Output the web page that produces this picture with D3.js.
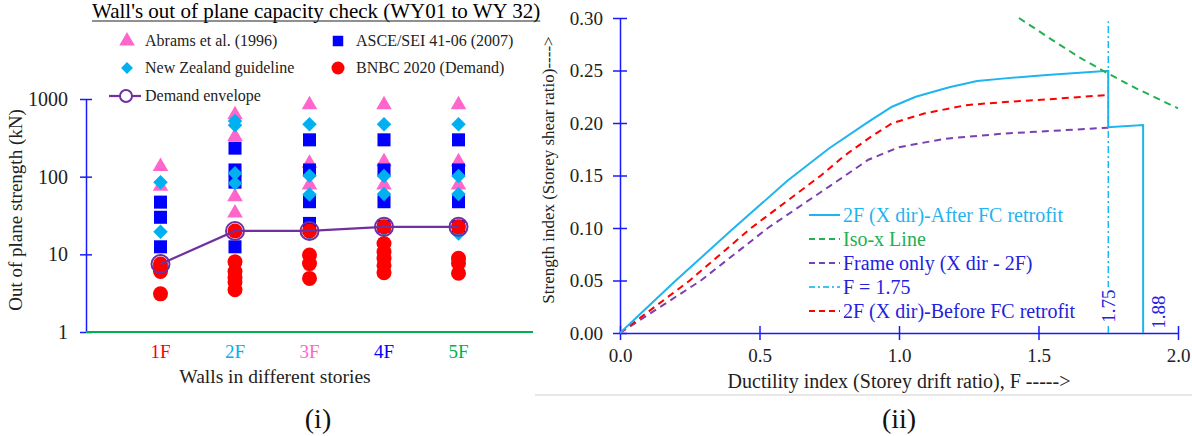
<!DOCTYPE html>
<html>
<head>
<meta charset="utf-8">
<script src="https://cdn.jsdelivr.net/npm/d3@7"></script>
<style>
  body { margin: 0; background: #fff; }
  svg, svg text { font-family: "Liberation Serif", "Times New Roman", serif; }
</style>
</head>
<body>
<script>
// ---- data: left chart (out of plane strength, kN) ----
var floors = ["1F", "2F", "3F", "4F", "5F"];
var abrams = [[135, 75], [625, 330, 55, 34], [842, 149, 78], [842, 156, 78], [842, 156, 78]];
var asce = [[47, 30, 12.5], [233, 122, 85, 12.5], [298, 122, 47.6, 25], [298, 122, 47.6, 23], [298, 122, 47.6, 23]];
var nzGuide = [[85, 19.5], [520, 460, 111, 82], [474, 103, 59, 18.7], [474, 102, 60, 21], [474, 102, 60, 18.5]];
var bnbc = [[7.5, 6.8, 6, 3.1], [20, 8, 6, 5, 4.4, 3.5], [20, 9.8, 7.6, 4.9], [22.6, 13.8, 10.8, 8.9, 7.2, 5.8], [22.6, 8.9, 7.7, 5.7]];
var envelope = [7.5, 20, 20, 22.6, 22.6];
var logTicks = [1, 10, 100, 1000];

// ---- data: right chart (ductility index F, strength index) ----
var afterFC = [[0, 0], [0.1, 0.025], [0.2, 0.05], [0.4, 0.098], [0.6, 0.145], [0.75, 0.176], [0.89, 0.201],
  [0.975, 0.2155], [1.06, 0.225], [1.18, 0.234], [1.28, 0.240], [1.38, 0.2425], [1.53, 0.2457], [1.75, 0.2498],
  [1.75, 0.196], [1.875, 0.198], [1.875, 0]];
var beforeFC = [[0, 0], [0.25, 0.05], [0.47, 0.10], [0.72, 0.15], [0.8, 0.168], [0.9, 0.187], [0.975, 0.1997],
  [1.09, 0.209], [1.24, 0.217], [1.38, 0.220], [1.53, 0.2225], [1.75, 0.2267]];
var frameOnly = [[0, 0], [0.29, 0.05], [0.53, 0.10], [0.78, 0.145], [0.89, 0.165], [1.0, 0.177], [1.165, 0.185],
  [1.38, 0.190], [1.75, 0.1955]];
var isoX = [[1.43, 0.300], [1.55, 0.279], [1.65, 0.262], [1.75, 0.247], [1.85, 0.233], [2.0, 0.214]];
var fLine = [[1.75, 0], [1.75, 0.297]];
var xTicksR = [0, 0.5, 1.0, 1.5, 2.0];
var yTicksR = [0, 0.05, 0.10, 0.15, 0.20, 0.25, 0.30];
var markF = [1.75, 1.88];

// colours
var PINK = "#ff66cc", BLUE = "#0000ff", CYAN = "#00b0f0", RED = "#ff0000", PURPLE = "#7030a0", GREEN = "#00b050";
var AXBLUE = "#1a1aff", TXTBLUE = "#2222dd";
var floorColors = [RED, CYAN, PINK, BLUE, GREEN];

var W = 1192, H = 436;
var svg = d3.select("body").append("svg").attr("width", W).attr("height", H);

// ================= left chart =================
var x = d3.scaleLinear().domain([0, 6]).range([86, 533]);
var y = d3.scaleLog().domain([1, 1000]).range([332, 99]);

var tri = d3.symbol().type(d3.symbolTriangle).size(105);
var sq = d3.symbol().type(d3.symbolSquare).size(170);
var dia = d3.symbol().type(d3.symbolSquare).size(105);

function flat(arr) {
  var out = [];
  arr.forEach(function(vals, i) { vals.forEach(function(v) { out.push({i: i + 1, v: v}); }); });
  return out;
}

var left = svg.append("g");

// title
var title = left.append("text").attr("x", 92).attr("y", 18).attr("font-size", 21)
  .text("Wall's out of plane capacity check (WY01 to WY 32)");
var tl = title.node().getComputedTextLength();
left.append("line").attr("x1", 92).attr("x2", 92 + tl).attr("y1", 21).attr("y2", 21)
  .attr("stroke", "#222").attr("stroke-width", 1.2);

// y axis
var yAx = left.append("g").attr("transform", "translate(86,0)")
  .call(d3.axisLeft(y).tickValues(logTicks).tickFormat(d3.format("d")).tickSizeOuter(0).tickSizeInner(6).tickPadding(12))
  .attr("font-family", null);
yAx.select(".domain").attr("stroke", AXBLUE).attr("stroke-width", 1.5);
yAx.selectAll(".tick line").attr("x1", 6).attr("stroke", AXBLUE).attr("stroke-width", 1.5);
yAx.selectAll(".tick text").attr("font-size", 20).attr("fill", "#222");

// green x axis line
left.append("line").attr("x1", x(0)).attr("x2", x(6)).attr("y1", y(1)).attr("y2", y(1))
  .attr("stroke", GREEN).attr("stroke-width", 2);

// category labels
left.selectAll(".cat").data(floors).enter().append("text")
  .attr("x", function(d, i) { return x(i + 1); }).attr("y", 358)
  .attr("text-anchor", "middle").attr("font-size", 19)
  .attr("fill", function(d, i) { return floorColors[i]; }).text(function(d) { return d; });

left.append("text").attr("x", 275).attr("y", 383).attr("text-anchor", "middle").attr("font-size", 19.5)
  .attr("fill", "#222").text("Walls in different stories");
left.append("text").attr("transform", "translate(22,210) rotate(-90)").attr("text-anchor", "middle")
  .attr("font-size", 19).attr("fill", "#222").text("Out of plane strength (kN)");
left.append("text").attr("x", 318).attr("y", 428).attr("text-anchor", "middle").attr("font-size", 28)
  .attr("fill", "#111").text("(i)");

// markers
left.selectAll(".tri").data(flat(abrams)).enter().append("path")
  .attr("d", tri).attr("fill", PINK)
  .attr("transform", function(d) { return "translate(" + x(d.i) + "," + y(d.v) + ")"; });
left.selectAll(".sq").data(flat(asce)).enter().append("path")
  .attr("d", sq).attr("fill", BLUE)
  .attr("transform", function(d) { return "translate(" + x(d.i) + "," + y(d.v) + ")"; });
left.selectAll(".dia").data(flat(nzGuide)).enter().append("path")
  .attr("d", dia).attr("fill", CYAN)
  .attr("transform", function(d) { return "translate(" + x(d.i) + "," + y(d.v) + ") rotate(45)"; });
left.selectAll(".dot").data(flat(bnbc)).enter().append("circle")
  .attr("cx", function(d) { return x(d.i); }).attr("cy", function(d) { return y(d.v); })
  .attr("r", 7.5).attr("fill", RED);

var envLine = d3.line().x(function(d, i) { return x(i + 1); }).y(function(d) { return y(d); });
left.append("path").datum(envelope).attr("d", envLine).attr("fill", "none")
  .attr("stroke", PURPLE).attr("stroke-width", 2.2);
left.selectAll(".env").data(envelope).enter().append("circle")
  .attr("cx", function(d, i) { return x(i + 1); }).attr("cy", function(d) { return y(d); })
  .attr("r", 9).attr("fill", "none").attr("stroke", PURPLE).attr("stroke-width", 2);

// legend
var lg = left.append("g").attr("font-size", 16).attr("fill", "#222");
lg.append("path").attr("d", tri).attr("fill", PINK).attr("transform", "translate(127,41)");
lg.append("text").attr("x", 145).attr("y", 46).text("Abrams et al. (1996)");
lg.append("path").attr("d", d3.symbol().type(d3.symbolSquare).size(110)).attr("fill", BLUE).attr("transform", "translate(338,41)");
lg.append("text").attr("x", 356).attr("y", 46).text("ASCE/SEI 41-06 (2007)");
lg.append("path").attr("d", d3.symbol().type(d3.symbolSquare).size(70)).attr("fill", CYAN).attr("transform", "translate(127,68) rotate(45)");
lg.append("text").attr("x", 145).attr("y", 73).text("New Zealand guideline");
lg.append("circle").attr("cx", 338).attr("cy", 68).attr("r", 6.5).attr("fill", RED);
lg.append("text").attr("x", 356).attr("y", 73).text("BNBC 2020 (Demand)");
lg.append("line").attr("x1", 109).attr("x2", 141).attr("y1", 96).attr("y2", 96).attr("stroke", PURPLE).attr("stroke-width", 2.2);
lg.append("circle").attr("cx", 126).attr("cy", 96).attr("r", 6).attr("fill", "#fff").attr("stroke", PURPLE).attr("stroke-width", 2);
lg.append("text").attr("x", 145).attr("y", 101).text("Demand envelope");

// ================= right chart =================
var xR = d3.scaleLinear().domain([0, 2]).range([620, 1178]);
var yR = d3.scaleLinear().domain([0, 0.30]).range([333, 18]);
var right = svg.append("g");

right.append("line").attr("x1", 535).attr("x2", W).attr("y1", 395).attr("y2", 395)
  .attr("stroke", "#cfcfcf").attr("stroke-width", 1.2);

var xAx = right.append("g").attr("transform", "translate(0," + yR(0) + ")")
  .call(d3.axisBottom(xR).tickValues(xTicksR).tickFormat(d3.format(".1f")).tickSizeOuter(0).tickSizeInner(7).tickPadding(9))
  .attr("font-family", null);
xAx.select(".domain").attr("stroke", AXBLUE).attr("stroke-width", 1.5);
xAx.selectAll(".tick line").attr("y1", -7).attr("stroke", AXBLUE).attr("stroke-width", 1.5);
xAx.selectAll(".tick text").attr("font-size", 19).attr("fill", "#222");

var yAxR = right.append("g").attr("transform", "translate(" + xR(0) + ",0)")
  .call(d3.axisLeft(yR).tickValues(yTicksR).tickFormat(d3.format(".2f")).tickSizeOuter(0).tickSizeInner(7).tickPadding(10))
  .attr("font-family", null);
yAxR.select(".domain").attr("stroke", AXBLUE).attr("stroke-width", 1.5);
yAxR.selectAll(".tick line").attr("x1", 7).attr("stroke", AXBLUE).attr("stroke-width", 1.5);
yAxR.selectAll(".tick text").attr("font-size", 19).attr("fill", "#222");

right.append("text").attr("transform", "translate(554,170) rotate(-90)").attr("text-anchor", "middle")
  .attr("font-size", 17).attr("fill", "#222").text("Strength index (Storey shear ratio)---->");
right.append("text").attr("x", 899).attr("y", 388).attr("text-anchor", "middle").attr("font-size", 20)
  .attr("fill", "#222").text("Ductility index (Storey drift ratio), F ----->");
right.append("text").attr("x", 899).attr("y", 428).attr("text-anchor", "middle").attr("font-size", 28)
  .attr("fill", "#111").text("(ii)");

var ln = d3.line().x(function(d) { return xR(d[0]); }).y(function(d) { return yR(d[1]); });

right.append("path").datum(fLine).attr("d", ln).attr("fill", "none")
  .attr("stroke", CYAN).attr("stroke-width", 1.3).attr("stroke-dasharray", "7,3,2,3");
right.append("path").datum(frameOnly).attr("d", ln).attr("fill", "none")
  .attr("stroke", "#7a3fb0").attr("stroke-width", 2).attr("stroke-dasharray", "7,5");
right.append("path").datum(beforeFC).attr("d", ln).attr("fill", "none")
  .attr("stroke", RED).attr("stroke-width", 2).attr("stroke-dasharray", "7,5");
right.append("path").datum(afterFC).attr("d", ln).attr("fill", "none")
  .attr("stroke", "#1eb4f0").attr("stroke-width", 2);
right.append("path").datum(isoX).attr("d", ln).attr("fill", "none")
  .attr("stroke", "#22b050").attr("stroke-width", 2).attr("stroke-dasharray", "7,5");

// rotated value labels for F
right.selectAll(".fl").data(markF).enter().append("g")
  .attr("transform", function(d, i) { return "translate(" + (xR(d) + (i ? 14 : 0)) + "," + (i ? 312 : 306) + ") rotate(-90)"; })
  .each(function(d, i) {
    var g = d3.select(this);
    if (!i) g.append("rect").attr("x", -19).attr("y", -10).attr("width", 38).attr("height", 20).attr("fill", "#fff");
    g.append("text").attr("text-anchor", "middle").attr("dy", "0.35em").attr("font-size", 19)
      .attr("fill", TXTBLUE).text(d3.format(".2f")(d));
  });

// legend
var legendR = [
  {t: "2F (X dir)-After FC retrofit", c: "#1eb4f0", tc: "#1eb4f0", dash: null},
  {t: "Iso-x Line", c: "#22b050", tc: "#22b050", dash: "6,4"},
  {t: "Frame only (X dir - 2F)", c: "#7a3fb0", tc: TXTBLUE, dash: "6,4"},
  {t: "F = 1.75", c: CYAN, tc: TXTBLUE, dash: "6,3,2,3"},
  {t: "2F (X dir)-Before FC retrofit", c: RED, tc: TXTBLUE, dash: "6,4"}
];
var lgR = right.selectAll(".lgr").data(legendR).enter().append("g")
  .attr("transform", function(d, i) { return "translate(809," + (215 + i * 24) + ")"; });
lgR.append("line").attr("x1", 0).attr("x2", 31).attr("stroke", function(d) { return d.c; })
  .attr("stroke-width", function(d, i) { return i === 3 ? 1.3 : 2; })
  .attr("stroke-dasharray", function(d) { return d.dash; });
lgR.append("text").attr("x", 34).attr("dy", "0.35em").attr("font-size", 20)
  .attr("fill", function(d) { return d.tc; }).text(function(d) { return d.t; });
</script>
</body>
</html>
